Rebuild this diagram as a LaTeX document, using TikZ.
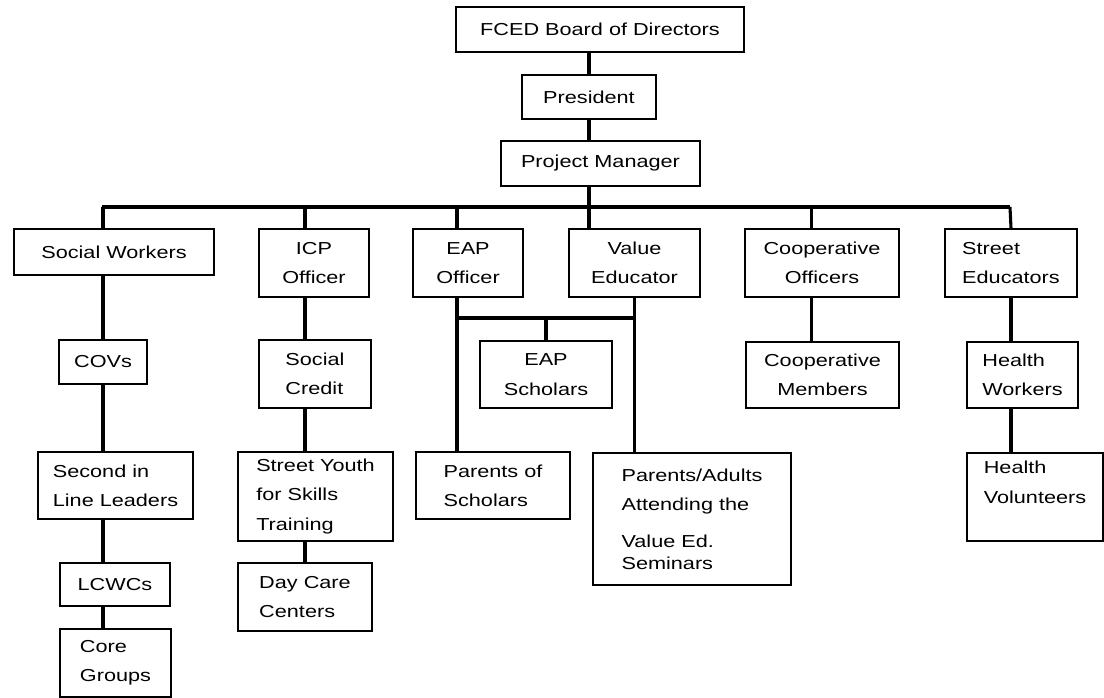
\documentclass[tikz,border=0pt]{standalone}
\usepackage{fontspec}
\setmainfont{Liberation Sans}[FakeStretch=1.25]
\newcommand{\unitfont}{\fontsize{13}{22}\selectfont}

\tikzset{every picture/.style={line width=0.75pt}}
\tikzset{
	unit/.style={draw, line width=1.5pt, anchor=north west, inner sep=2pt, align=left, font=\unitfont},
	boxsize/.style 2 args={minimum width=#1*0.75pt, minimum height=#2*0.75pt},
	link/.style={line width=2.3pt},
	bus/.style={line width=3pt}}

\begin{document}
\begin{tikzpicture}[x=0.75pt,y=0.75pt,yscale=-1,xscale=1]
	\useasboundingbox (0,0) rectangle (1104,697);

	% Head of the chart
	\node[unit, boxsize={288}{45}] (board) at (455,6) {FCED Board of Directors};
	\node[unit, boxsize={134}{44}] (pres) at (521,74) {President};
	\node[unit, boxsize={199}{45}] (pm) at (500,140) {Project Manager};

	% Officers
	\node[unit, boxsize={200}{46}] (sw) at (13,228) {Social Workers};
	\node[unit, boxsize={110}{68}, align=center] (icp) at (258,228) {ICP\\Officer};
	\node[unit, boxsize={110}{68}, align=center] (eapo) at (412,228) {EAP\\Officer};
	\node[unit, boxsize={131}{68}, align=center] (val) at (568,228) {Value\\Educator};
	\node[unit, boxsize={154}{68}, align=center] (coopo) at (744,228) {Cooperative\\Officers};
	\node[unit, boxsize={132}{68}] (streed) at (944,228) {Street\\Educators};

	% Third level
	\node[unit, boxsize={88}{44}] (covs) at (58,339) {COVs};
	\node[unit, boxsize={112}{68}] (scred) at (258,339) {Social\\Credit};
	\node[unit, boxsize={132}{67}, align=center] (eaps) at (479,340) {EAP\\Scholars};
	\node[unit, boxsize={153}{66}, align=center] (coopm) at (745,341) {Cooperative\\Members};
	\node[unit, boxsize={111}{66}] (hw) at (966,341) {Health\\Workers};

	% Fourth level
	\node[unit, boxsize={155}{67}] (sill) at (37,451) {Second in\\Line Leaders};
	\node[unit, boxsize={155}{89}] (sy) at (237,451) {Street Youth\\for Skills\\Training};
	\node[unit, boxsize={154}{67}] (pos) at (415,451) {Parents of\\Scholars};
	\node[unit, boxsize={198}{132}] (pa) at (592,452) {Parents/Adults\\Attending the\\[6pt]Value Ed.\\[-6pt]Seminars};
	\node[unit, boxsize={136}{88}] (hv) at (966,452) {Health\\Volunteers\\~};

	% Bottom level
	\node[unit, boxsize={110}{43}] (lcwc) at (59,562) {LCWCs};
	\node[unit, boxsize={134}{68}] (dcc) at (237,562) {Day Care\\Centers};
	\node[unit, boxsize={111}{68}] (core) at (59,628) {Core\\Groups};

	% Bus under the project manager
	\coordinate (busL) at (102,207);
	\coordinate (busR) at (1010,207);
	\coordinate (fork) at (457,318);

	%Straight Lines
	\draw[link] (pres.north) -- (pres.north |- board.south);
	\draw[link] (pres.south) -- (pres.south |- pm.north);
	\draw[link] (pres.south |- pm.south) -- (pres.south |- busL);
	\draw[bus] (busL) -- (busR);
	\draw[link] (sw.north -| covs.north) |- (busL);
	\draw[link] (icp.north -| dcc.north) |- (busL);
	\draw[link] (eapo.north -| fork) |- (busL);
	\draw[link] (val.north -| pres.south) |- (busL);
	\draw[link] ([xshift=-8pt]coopo.north) |- (busR);
	\draw[link] (streed.north) -- (busR);

	%Straight Lines
	\draw[link] (sw.south -| covs.north) -- (covs.north);
	\draw[link] (covs.south) -- (covs.south |- sill.north);
	\draw[link] (sill.south -| covs.south) -- (lcwc.north -| covs.south);
	\draw[link] (lcwc.south -| covs.south) -- (core.north -| covs.south);

	%Straight Lines
	\draw[link] (icp.south -| dcc.north) -- (scred.north -| dcc.north);
	\draw[link] (scred.south -| dcc.north) -- (sy.north -| dcc.north);
	\draw[link] (sy.south -| dcc.north) -- (dcc.north);

	%Straight Lines
	\draw[link] (eapo.south -| fork) -- (pos.north -| fork);
	\draw[link] (val.south) -- (val.south |- pa.north);
	\draw[bus] (fork) -- (fork -| val.south);
	\draw[link] (eaps.north) -- (eaps.north |- fork);

	%Straight Lines
	\draw[link] ([xshift=-8pt]coopo.south) -- ([xshift=-8pt]coopo.south |- coopm.north);
	\draw[link] (streed.south) -- (streed.south |- hw.north);
	\draw[link] (hw.south -| streed.south) -- (hv.north -| streed.south);

\end{tikzpicture}
\end{document}
